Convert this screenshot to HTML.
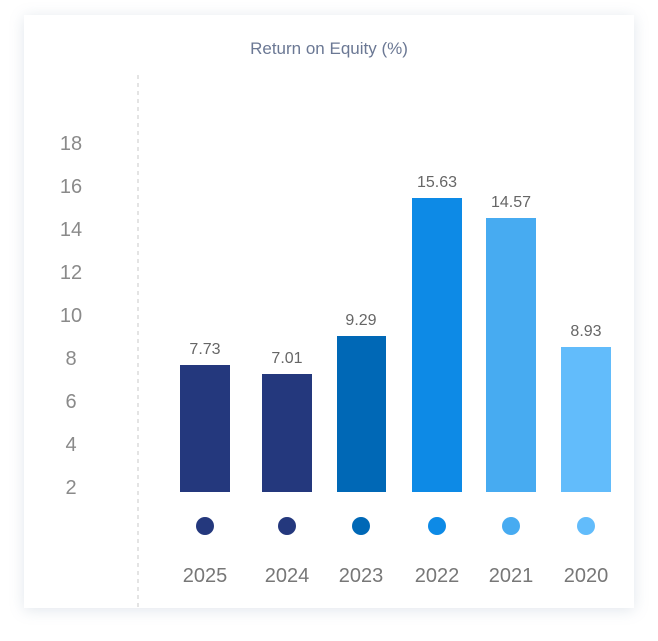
<!DOCTYPE html>
<html><head><meta charset="utf-8"><style>
body{margin:0;width:658px;height:641px;background:#fff;font-family:"Liberation Sans",sans-serif;overflow:hidden}
.card{position:absolute;left:24px;top:15px;width:610px;height:593px;background:#fff;box-shadow:0 2px 14px rgba(120,140,170,0.22)}
.t{position:absolute;white-space:nowrap}
</style></head><body>
<div class="card"></div>
<svg width="658" height="641" style="position:absolute;left:0;top:0" font-family="Liberation Sans, sans-serif">
<text x="329" y="54" text-anchor="middle" font-size="17" fill="#6b7894">Return on Equity (%)</text>
<line x1="138" y1="75" x2="138" y2="608" stroke="#c8c8c8" stroke-dasharray="4,4"/>
<g font-size="20" fill="#8a8a8a" text-anchor="middle">
<text x="71" y="150">18</text><text x="71" y="193">16</text><text x="71" y="236">14</text>
<text x="71" y="279">12</text><text x="71" y="322">10</text><text x="71" y="365">8</text>
<text x="71" y="408">6</text><text x="71" y="451">4</text><text x="71" y="494">2</text>
</g>
<rect x="180" y="365" width="50" height="127" fill="#24387d"/>
<rect x="262" y="374" width="50" height="118" fill="#24387d"/>
<rect x="337" y="336" width="49" height="156" fill="#0068b6"/>
<rect x="412" y="198" width="50" height="294" fill="#0d8ae6"/>
<rect x="486" y="218" width="50" height="274" fill="#47abf1"/>
<rect x="561" y="347" width="50" height="145" fill="#62bcfb"/>
<g font-size="16" fill="#666" text-anchor="middle">
<text x="205" y="354">7.73</text><text x="287" y="363">7.01</text><text x="361" y="325">9.29</text>
<text x="437" y="187">15.63</text><text x="511" y="207">14.57</text><text x="586" y="336">8.93</text>
</g>
<circle cx="205" cy="526" r="9" fill="#24387d"/><circle cx="287" cy="526" r="9" fill="#24387d"/>
<circle cx="361" cy="526" r="9" fill="#0068b6"/><circle cx="437" cy="526" r="9" fill="#0d8ae6"/>
<circle cx="511" cy="526" r="9" fill="#47abf1"/><circle cx="586" cy="526" r="9" fill="#62bcfb"/>
<g font-size="20" fill="#777" text-anchor="middle">
<text x="205" y="582">2025</text><text x="287" y="582">2024</text><text x="361" y="582">2023</text>
<text x="437" y="582">2022</text><text x="511" y="582">2021</text><text x="586" y="582">2020</text>
</g>
</svg>
</body></html>
